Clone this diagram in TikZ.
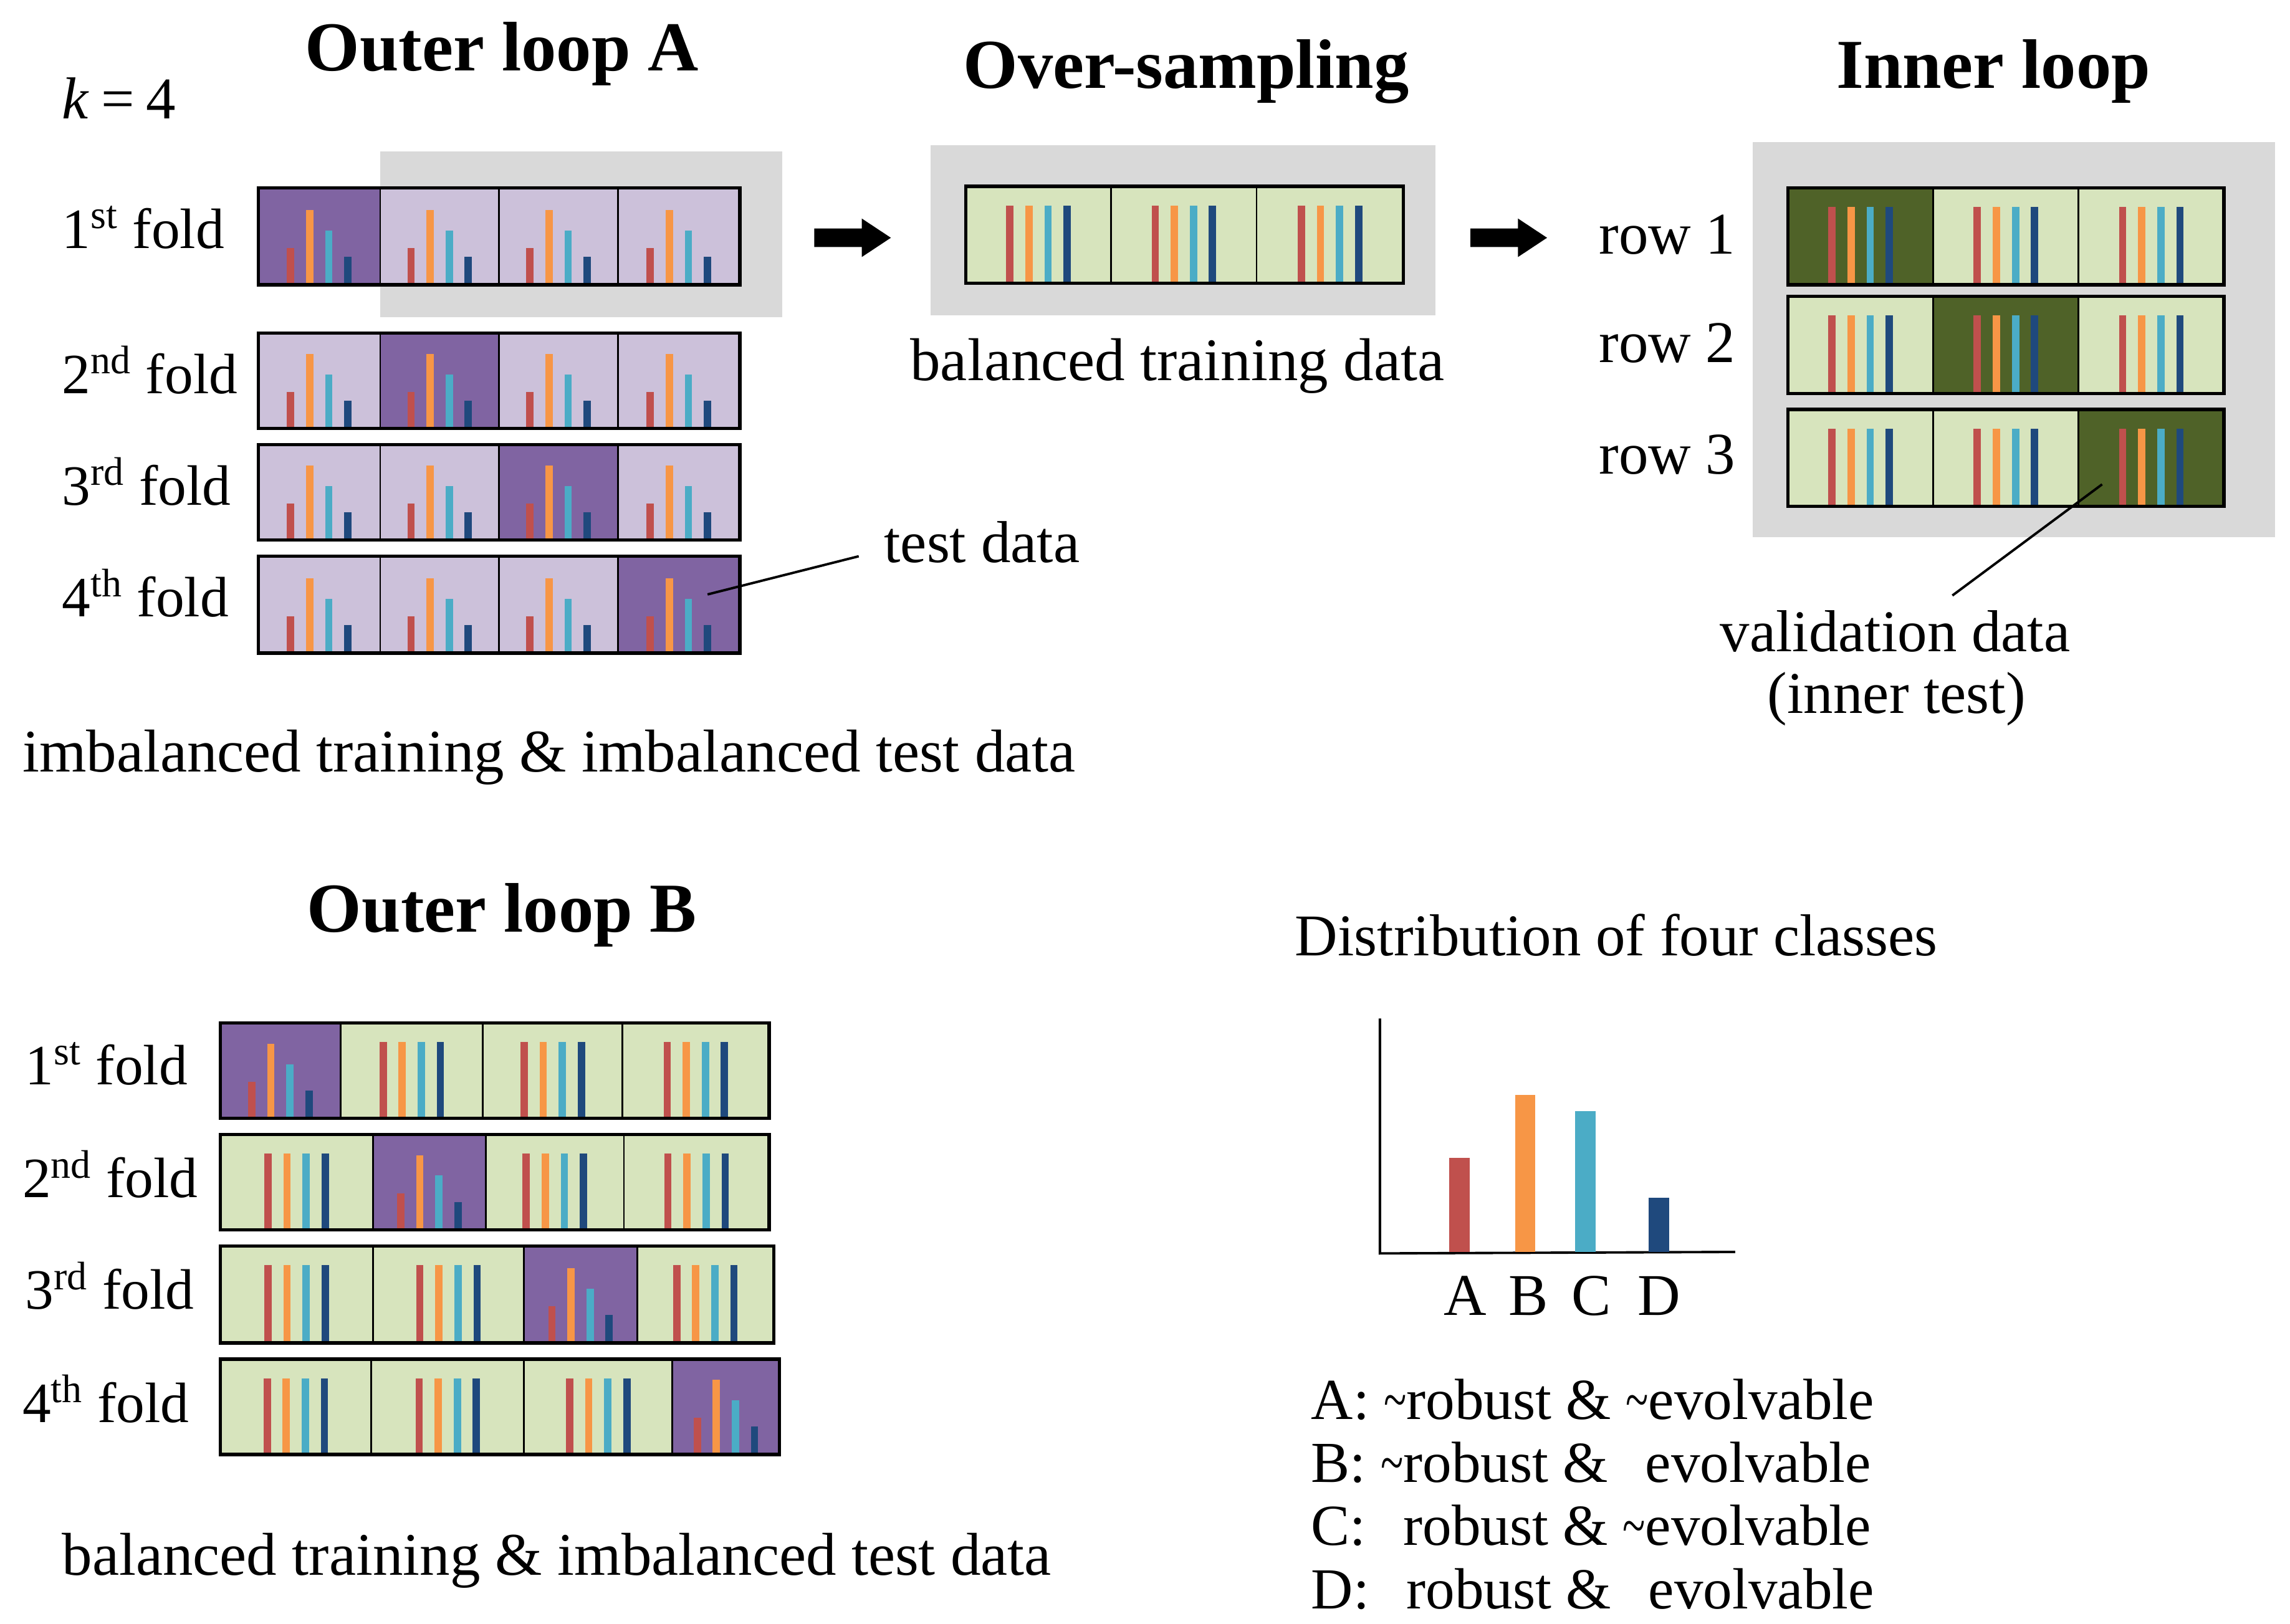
\documentclass[tikz,border=0pt]{standalone}
\usepackage{fontspec}
\usepackage{graphicx}
\setmainfont{Liberation Serif}
\usetikzlibrary{fit,calc,shapes.arrows}
\definecolor{cR}{HTML}{C0504D}
\definecolor{cO}{HTML}{F79646}
\definecolor{cC}{HTML}{4BACC6}
\definecolor{cN}{HTML}{1F497D}
\definecolor{pD}{HTML}{8064A2}
\definecolor{pL}{HTML}{CCC1DA}
\definecolor{gL}{HTML}{D7E4BD}
\definecolor{gD}{HTML}{4F6228}
\definecolor{bgGray}{HTML}{D9D9D9}
\tikzset{
  txt/.style={inner sep=0pt, font=\fontsize{27pt}{32pt}\selectfont},
  bigtxt/.style={inner sep=0pt, font=\fontsize{27.6pt}{32pt}\selectfont},
  foldtxt/.style={inner sep=0pt, font=\fontsize{26pt}{31pt}\selectfont},
  legtxt/.style={inner sep=0pt, font=\fontsize{26.5pt}{31pt}\selectfont},
  ttl/.style={inner sep=0pt, font=\fontsize{32pt}{38pt}\selectfont\bfseries},
  cellbox/.style={draw=black, line width=0.8pt, inner sep=0pt, outer sep=0pt},
  rowframe/.style={draw=black, line width=1.5pt},
  grayback/.style={fill=bgGray, draw=none},
  leader/.style={draw=black, line width=1.1pt},
  axisline/.style={draw=black, line width=1.1pt},
  bigarrow/.style={single arrow, fill=black, draw=none, inner sep=0pt, outer sep=0pt,
    minimum height=1.23cm, single arrow head extend=0.16cm,
    single arrow tip angle=67},
}
\newcommand\tld{\scalebox{0.72}[1]{\textasciitilde}}
\newcommand\mkcell[6]{\node[cellbox, fill=#6, fit={(#2,#3) (#4,#5)}] (#1) {};}
\newcommand\imbars[1]{%
  \fill[cR] ($(#1.south)+(-22,0)$) rectangle ++(5,-25);
  \fill[cO] ($(#1.south)+(-9,0)$) rectangle ++(5,-51);
  \fill[cC] ($(#1.south)+(4,0)$) rectangle ++(5,-37);
  \fill[cN] ($(#1.south)+(17,0)$) rectangle ++(5,-19);
}
\newcommand\balbars[1]{%
  \fill[cR] ($(#1.south)+(-22,0)$) rectangle ($(#1.north)+(-17,13)$);
  \fill[cO] ($(#1.south)+(-9,0)$) rectangle ($(#1.north)+(-4,13)$);
  \fill[cC] ($(#1.south)+(4,0)$) rectangle ($(#1.north)+(9,13)$);
  \fill[cN] ($(#1.south)+(17,0)$) rectangle ($(#1.north)+(22,13)$);
}
\begin{document}
\begin{tikzpicture}[x=0.02355cm, y=-0.02355cm]
\useasboundingbox (0,0) rectangle (1560,1106.2);
\fill[white] (0,0) rectangle (1560,1106.2);

% ---------- titles ----------
\node[ttl, anchor=base] (tA) at (342,48) {Outer loop A};
\node[txt, anchor=base west] (k4) at (42,81) {\textit{k}\hspace{0.2em}=\hspace{0.2em}4};
\node[ttl, anchor=base] (tOS) at (808,60) {Over-sampling};
\node[ttl, anchor=base] (tIL) at (1358,60) {Inner loop};
\node[ttl, anchor=base] (tB) at (342,635) {Outer loop B};

% ---------- gray backgrounds ----------
\fill[grayback] (259,103) rectangle (533,216);
\fill[grayback] (634,99) rectangle (978,215);
\fill[grayback] (1194,97) rectangle (1550,366);

% ---------- Outer loop A ----------
\mkcell{a1c1}{176}{128}{259}{194}{pD}
\mkcell{a1c2}{259}{128}{340}{194}{pL}
\mkcell{a1c3}{340}{128}{421}{194}{pL}
\mkcell{a1c4}{421}{128}{504}{194}{pL}
\mkcell{a2c1}{176}{227}{259}{292}{pL}
\mkcell{a2c2}{259}{227}{340}{292}{pD}
\mkcell{a2c3}{340}{227}{421}{292}{pL}
\mkcell{a2c4}{421}{227}{504}{292}{pL}
\mkcell{a3c1}{176}{303}{259}{368}{pL}
\mkcell{a3c2}{259}{303}{340}{368}{pL}
\mkcell{a3c3}{340}{303}{421}{368}{pD}
\mkcell{a3c4}{421}{303}{504}{368}{pL}
\mkcell{a4c1}{176}{379}{259}{445}{pL}
\mkcell{a4c2}{259}{379}{340}{445}{pL}
\mkcell{a4c3}{340}{379}{421}{445}{pL}
\mkcell{a4c4}{421}{379}{504}{445}{pD}
\foreach \r in {1,2,3,4}{\foreach \c in {1,2,3,4}{\imbars{a\r c\c}}}
\foreach \r in {1,2,3,4}{\draw[rowframe] (a\r c1.north west) rectangle (a\r c4.south east);}

\node[foldtxt, anchor=base west] (fA1) at (42,169) {1\textsuperscript{st} fold};
\node[foldtxt, anchor=base west] (fA2) at (42,268) {2\textsuperscript{nd} fold};
\node[foldtxt, anchor=base west] (fA3) at (42,344) {3\textsuperscript{rd} fold};
\node[foldtxt, anchor=base west] (fA4) at (42,420) {4\textsuperscript{th} fold};

\node[txt, anchor=base west, inner xsep=0.4cm] (test) at (585,383) {test data};
\coordinate (testpt) at (482,405);
\draw[leader] (testpt) -- ($(test.base west)+(0,-4)$);

\node[bigtxt, anchor=base west] (imbA) at (15,526) {imbalanced training \& imbalanced test data};

% ---------- arrows ----------
\node[bigarrow] (arr1) at (576,162) {\rule{0pt}{0.283cm}};
\node[bigarrow] (arr2) at (1023,162) {\rule{0pt}{0.283cm}};

% ---------- Over-sampling ----------
\mkcell{o1}{658}{127}{757}{193}{gL}
\mkcell{o2}{757}{127}{856}{193}{gL}
\mkcell{o3}{856}{127}{956}{193}{gL}
\balbars{o1}\balbars{o2}\balbars{o3}
\draw[rowframe] (o1.north west) rectangle (o3.south east);
\node[bigtxt, anchor=base] (bal) at (802,259) {balanced training data};

% ---------- Inner loop ----------
\mkcell{i1c1}{1218}{128}{1317}{194}{gD}
\mkcell{i1c2}{1317}{128}{1416}{194}{gL}
\mkcell{i1c3}{1416}{128}{1515}{194}{gL}
\mkcell{i2c1}{1218}{202}{1317}{268}{gL}
\mkcell{i2c2}{1317}{202}{1416}{268}{gD}
\mkcell{i2c3}{1416}{202}{1515}{268}{gL}
\mkcell{i3c1}{1218}{279}{1317}{345}{gL}
\mkcell{i3c2}{1317}{279}{1416}{345}{gL}
\mkcell{i3c3}{1416}{279}{1515}{345}{gD}
\foreach \r in {1,2,3}{\foreach \c in {1,2,3}{\balbars{i\r c\c}}}
\foreach \r in {1,2,3}{\draw[rowframe] (i\r c1.north west) rectangle (i\r c3.south east);}
\node[txt, anchor=base west] (row1) at (1089,173) {row 1};
\node[txt, anchor=base west] (row2) at (1089,247) {row 2};
\node[txt, anchor=base west] (row3) at (1089,323) {row 3};

\node[txt, anchor=base] (val1) at (1291,444) {validation data};
\node[txt, anchor=base] (val2) at (1292,486) {(inner test)};
\coordinate (valpt) at (1432,330);
\draw[leader] (valpt) -- ($(val1.north)+(39,-10)$);

% ---------- Outer loop B ----------
\mkcell{b1c1}{150}{697}{232}{762}{pD}
\mkcell{b1c2}{232}{697}{329}{762}{gL}
\mkcell{b1c3}{329}{697}{424}{762}{gL}
\mkcell{b1c4}{424}{697}{524}{762}{gL}
\mkcell{b2c1}{150}{773}{254}{838}{gL}
\mkcell{b2c2}{254}{773}{331}{838}{pD}
\mkcell{b2c3}{331}{773}{425}{838}{gL}
\mkcell{b2c4}{425}{773}{524}{838}{gL}
\mkcell{b3c1}{150}{849}{254}{915}{gL}
\mkcell{b3c2}{254}{849}{357}{915}{gL}
\mkcell{b3c3}{357}{849}{434}{915}{pD}
\mkcell{b3c4}{434}{849}{527}{915}{gL}
\mkcell{b4c1}{150}{926}{253}{991}{gL}
\mkcell{b4c2}{253}{926}{357}{991}{gL}
\mkcell{b4c3}{357}{926}{458}{991}{gL}
\mkcell{b4c4}{458}{926}{531}{991}{pD}
\imbars{b1c1}\balbars{b1c2}\balbars{b1c3}\balbars{b1c4}
\balbars{b2c1}\imbars{b2c2}\balbars{b2c3}\balbars{b2c4}
\balbars{b3c1}\balbars{b3c2}\imbars{b3c3}\balbars{b3c4}
\balbars{b4c1}\balbars{b4c2}\balbars{b4c3}\imbars{b4c4}
\foreach \r in {1,2,3,4}{\draw[rowframe] (b\r c1.north west) rectangle (b\r c4.south east);}

\node[foldtxt, anchor=base west] (fB1) at (17,739) {1\textsuperscript{st} fold};
\node[foldtxt, anchor=base west] (fB2) at (15,816) {2\textsuperscript{nd} fold};
\node[foldtxt, anchor=base west] (fB3) at (17,892) {3\textsuperscript{rd} fold};
\node[foldtxt, anchor=base west] (fB4) at (15,969) {4\textsuperscript{th} fold};
\node[bigtxt, anchor=base west] (balB) at (42,1073) {balanced training \& imbalanced test data};

% ---------- Distribution chart ----------
\node[txt, anchor=base west] (dist) at (882,651) {Distribution of four classes};
\draw[axisline] (940,694) -- (940,854) -- (1182,853);
\fill[cR] (987,853) rectangle (1001,789);
\fill[cO] (1032,853) rectangle (1046,746);
\fill[cC] (1073,853) rectangle (1087,757);
\fill[cN] (1123,853) rectangle (1137,816);
\node[txt, anchor=base] (lA) at (998,896) {A};
\node[txt, anchor=base] (lB) at (1041,896) {B};
\node[txt, anchor=base] (lC) at (1084,896) {C};
\node[txt, anchor=base] (lD) at (1130,896) {D};

\node[legtxt, anchor=base west] (legA) at (893,967) {A: \tld robust \& \tld evolvable};
\node[legtxt, anchor=base west] (legB) at (893,1010) {B: \tld robust \& \phantom{\tld}evolvable};
\node[legtxt, anchor=base west] (legC) at (893,1053) {C: \phantom{\tld}robust \& \tld evolvable};
\node[legtxt, anchor=base west] (legD) at (893,1096) {D: \phantom{\tld}robust \& \phantom{\tld}evolvable};
\end{tikzpicture}
\end{document}
